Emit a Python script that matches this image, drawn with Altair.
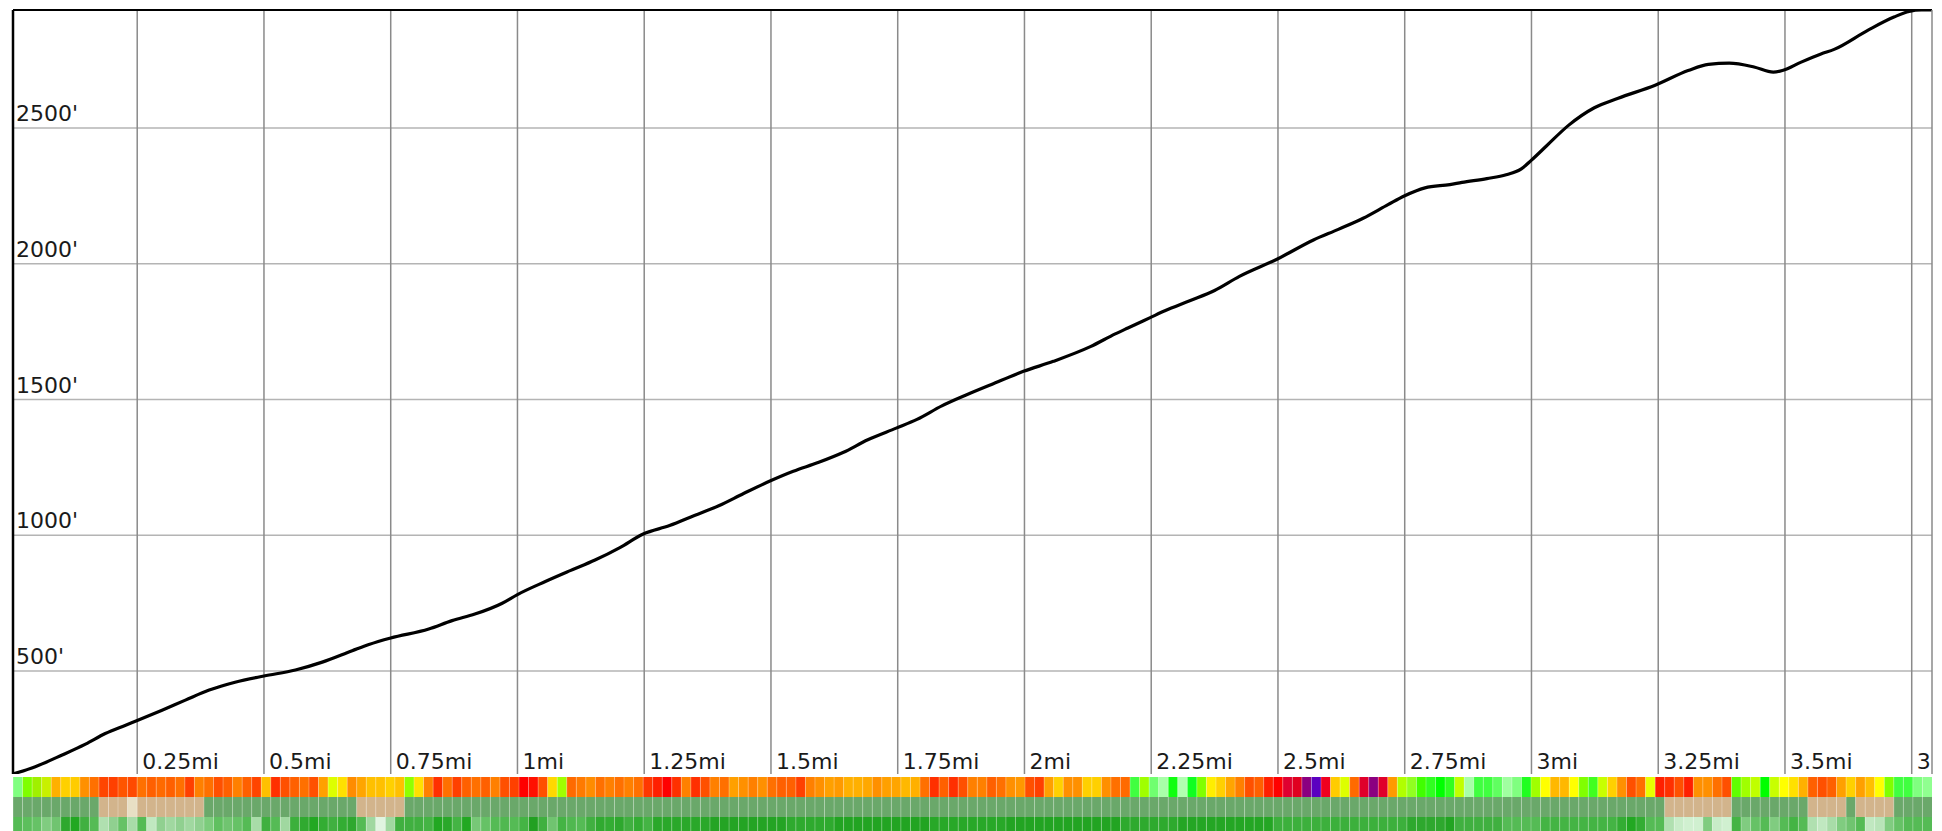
import altair as alt
import pandas as pd

X_MIN, X_MAX = 0.005, 3.79
Y_MIN, Y_MAX = 121, 2935

dist_mi = [0.005, 0.049, 0.102, 0.148, 0.187, 0.226, 0.25, 0.299, 0.345, 0.392, 0.443, 0.5,
           0.562, 0.615, 0.674, 0.707, 0.75, 0.825, 0.871, 0.916, 0.97, 1.0, 1.055, 1.104,
           1.153, 1.202, 1.248, 1.3, 1.349, 1.397, 1.446, 1.498, 1.544, 1.593, 1.642, 1.691,
           1.747, 1.788, 1.837, 1.886, 1.935, 1.998, 2.057, 2.13, 2.179, 2.204, 2.248, 2.277,
           2.326, 2.375, 2.424, 2.499, 2.57, 2.619, 2.668, 2.717, 2.749, 2.79, 2.839, 2.863,
           2.912, 2.95, 2.98, 3.0, 3.03, 3.073, 3.124, 3.171, 3.244, 3.309, 3.349, 3.39,
           3.439, 3.477, 3.495, 3.532, 3.571, 3.597, 3.664, 3.715, 3.745, 3.769, 3.79]
elev_ft = [121, 148, 191, 231, 270, 300, 318, 356, 393, 430, 459, 482,
           504, 533, 575, 598, 622, 655, 686, 710, 750, 782, 830, 870,
           909, 955, 1005, 1036, 1073, 1109, 1154, 1200, 1236, 1268, 1305, 1352,
           1395, 1427, 1477, 1518, 1556, 1604, 1641, 1695, 1742, 1764, 1802, 1827,
           1864, 1902, 1954, 2018, 2088, 2127, 2168, 2218, 2250, 2280, 2292, 2300,
           2314, 2328, 2350, 2382, 2435, 2510, 2575, 2610, 2658, 2712, 2735, 2739,
           2725, 2706, 2712, 2743, 2773, 2790, 2861, 2909, 2930, 2935, 2935]

x_ticks = [0.25, 0.5, 0.75, 1.0, 1.25, 1.5, 1.75, 2.0, 2.25, 2.5, 2.75, 3.0, 3.25, 3.5, 3.75]
x_labels = ["0.25mi", "0.5mi", "0.75mi", "1mi", "1.25mi", "1.5mi", "1.75mi", "2mi",
            "2.25mi", "2.5mi", "2.75mi", "3mi", "3.25mi", "3.5mi", "3.75mi"]
y_ticks = [500, 1000, 1500, 2000, 2500]
y_labels = ["500'", "1000'", "1500'", "2000'", "2500'"]

# band 1: slope colour per 100-ft segment
slope_colors = [
    "#80ff80", "#7fff00", "#a0f000", "#c8f000", "#ffb000", "#ffd000", "#ffcc00", "#ff9000",
    "#ff7000", "#ff4500", "#ff4000", "#ff5500", "#ff4a00", "#ff7000", "#ff6000", "#ff6a00",
    "#ff6000", "#ff7000", "#ff4000", "#ff8000", "#ff7000", "#ff5000", "#ff6000", "#ff8000",
    "#ff6000", "#ff4500", "#ffc000", "#ff3000", "#ff5000", "#ff6000", "#ff7000", "#ff5000",
    "#ffa000", "#ddff00",
    "#ffe000", "#ff8c00", "#ffa500", "#ffc000", "#ffc000", "#ffd000", "#ffc000", "#90ff00",
    "#ffe000", "#ff8000", "#ff3000", "#ff7000", "#ff4000", "#ff6000", "#ff7000", "#ff6000",
    "#ff8000", "#ff5000", "#ff4000", "#ff0000", "#ff1000", "#ff5000", "#ffd800", "#a0ff00",
    "#ff6a00", "#ff7a00", "#ff8c00", "#ff7000", "#ff8000", "#ff7000", "#ff8000", "#ff7000",
    "#ff3800",
    "#ff2000", "#ff0000", "#ff3000", "#ff8000", "#ff3000", "#ff5000", "#ff8000", "#ff7000",
    "#ffa000", "#ff9000", "#ff8000", "#ff9000", "#ff7000", "#ff6000", "#ff6000", "#ff4000",
    "#ff8000", "#ff9000", "#ffa000", "#ff9a00", "#ffb000", "#ffb000", "#ffa800", "#ff9000",
    "#ffa000", "#ffa500", "#ffb800", "#ffb000", "#ff7000", "#ff3000", "#ff6000", "#ff3000",
    "#ff5000", "#ff8000",
    "#ff8000", "#ff6000", "#ff7000", "#ff9000", "#ff9800", "#ff5000", "#ff4000", "#ffa000",
    "#ffd000", "#ff9000", "#ff9000", "#ffd000", "#ffd000", "#ff9000", "#ff7000", "#ff6a00",
    "#40ff40", "#a0ff00", "#70ff70", "#a8ffa8", "#10ff10", "#b0ffb0", "#10ff20", "#80ff00",
    "#ffee00", "#ffd000", "#ffa500", "#ff8000", "#ff5000", "#ff6000", "#ff2000", "#ff0000",
    "#e00030",
    "#e00020", "#8b0080", "#5b00c0", "#f00020", "#ffcc00", "#ddff00", "#ff6a00", "#e0002a",
    "#8b0080", "#e0002a", "#ff9a00", "#b0ff00", "#90ff20", "#40ff00", "#30ff20", "#00ff00",
    "#30ff20", "#c0ff00", "#a8ffa8", "#40ff40", "#40ff40", "#60ff60", "#a0ffa0", "#80ff80",
    "#20ff20", "#a0ff00", "#ffff00", "#ffb800", "#ffb800", "#ffff00", "#80ff00", "#40ff20",
    "#c8ff00", "#ffd000",
    "#ff9000", "#ff5000", "#ff7000", "#e8ff00", "#ff2000", "#ff3000", "#ff5000", "#ff2000",
    "#ff9000", "#ff9000", "#ff7000", "#ff5000", "#60ff00", "#a0ff00", "#c0ff00", "#00ff00",
    "#c8ff00", "#ffff00", "#ffe000", "#ffb000", "#ff6000", "#ff5000", "#ff6000", "#ffa000",
    "#ffd000", "#ffa000", "#ffc000", "#ffff00", "#80ff00", "#40ff40", "#40ff40", "#80ff80",
    "#90ff90",
]

# band 2: cover (runs of colour, count of segments)
cover_runs = [("#6aa86a", 9), ("#d2b48c", 3), ("#e8dfc4", 1), ("#d2b48c", 7), ("#6aa86a", 16),
              ("#d2b48c", 5), ("#6aa86a", 132), ("#d2b48c", 7), ("#6aa86a", 8), ("#d2b48c", 4),
              ("#6aa86a", 1), ("#d2b48c", 4), ("#6aa86a", 4)]

# band 3: vegetation greens
veg_head = [
    "#55bb55", "#5cbf5c", "#66c266", "#80cc80", "#70c470", "#2ea82e", "#22a822", "#40b040",
    "#55bb55", "#b0e0b0", "#90d090", "#66c266", "#a8dca8", "#55bb55", "#c0e8c0", "#90d090",
    "#a0d8a0", "#90d090", "#a0d8a0", "#90d090", "#7ccc7c", "#60c060", "#70c470", "#66c266",
    "#55bb55", "#a8dca8", "#40b040", "#55bb55", "#a0d8a0", "#3cb03c", "#30aa30", "#22a822",
    "#33ad33", "#40b040",
    "#33ad33", "#2ea82e", "#55bb55", "#a0d8a0", "#e0f4e0", "#a0d8a0", "#40b040", "#40b040",
    "#40b040", "#44b444", "#22a822", "#2aa82a", "#44b444", "#22a822", "#77c877", "#66c266",
    "#55bb55", "#50b850", "#55bb55", "#44b444", "#22a022", "#40b040", "#70c470", "#44b444",
    "#50b850", "#55bb55", "#40b040", "#30aa30", "#33ad33", "#2ea82e", "#40b040", "#33ad33",
    "#44b444",
]
veg_mid_runs = [("#2aa82a", 6), ("#24a424", 8), ("#2eaa2e", 5), ("#22a422", 10), ("#28a828", 8),
                ("#22a422", 12), ("#2eaa2e", 6), ("#24a624", 10), ("#3cb03c", 14), ("#2ea82e", 4),
                ("#22a422", 1), ("#40b040", 5), ("#55bb55", 4), ("#44b444", 8)]
veg_tail = [
    "#33ad33", "#22a822", "#33ad33", "#55bb55", "#55bb55", "#b0e0b0", "#c8ecc8", "#d0f0d0",
    "#d0f0d0", "#80cc80", "#c8ecc8", "#d0f0d0", "#44b444", "#80cc80", "#66c266", "#55bb55",
    "#80cc80", "#55bb55", "#44b444", "#55bb55", "#b0e0b0", "#c0e8c0", "#a8dca8", "#80cc80",
    "#70c470", "#55bb55", "#c0e8c0", "#b8e4b8", "#80cc80", "#66c266", "#55bb55", "#55bb55",
    "#55bb55",
]


def expand(runs):
    out = []
    for c, n in runs:
        out.extend([c] * n)
    return out


cover_colors = expand(cover_runs)
veg_colors = veg_head + expand(veg_mid_runs) + veg_tail

band_rows = []
for band, colors in enumerate([slope_colors, cover_colors, veg_colors]):
    seg = (X_MAX - X_MIN) / len(colors)
    for i, c in enumerate(colors):
        band_rows.append({"band": band, "start": X_MIN + i * seg,
                          "end": X_MIN + (i + 1) * seg, "color": c})
band_df = pd.DataFrame(band_rows)
sep_df = band_df[band_df["band"] == 0][["start"]]

line_df = pd.DataFrame({"mi": dist_mi, "ft": elev_ft})
xt_df = pd.DataFrame({"x": x_ticks, "label": x_labels, "y0": [Y_MIN] * len(x_ticks)})
yt_df = pd.DataFrame({"y": y_ticks, "label": y_labels, "x0": [X_MIN] * len(y_ticks)})
frame_df = pd.DataFrame({"xmin": [X_MIN], "xmax": [X_MAX], "ymax": [Y_MAX]})

xs = alt.Scale(domain=[X_MIN, X_MAX], nice=False, zero=False)
ys = alt.Scale(domain=[Y_MIN, Y_MAX], nice=False, zero=False)
FONT = "DejaVu Sans"

hgrid = alt.Chart(yt_df).mark_rule(color="#b4b4b4", strokeWidth=1.5).encode(
    y=alt.Y("y:Q", scale=ys, axis=None))
vgrid = alt.Chart(xt_df).mark_rule(color="#8a8a8a", strokeWidth=1.5).encode(
    x=alt.X("x:Q", scale=xs, axis=None))
ylab = alt.Chart(yt_df).mark_text(align="left", baseline="alphabetic", dx=3, dy=-7,
                                  font=FONT, fontSize=22, color="#1a1a1a").encode(
    x=alt.X("x0:Q", scale=xs, axis=None), y=alt.Y("y:Q", scale=ys, axis=None), text="label:N")
xlab = alt.Chart(xt_df).mark_text(align="left", baseline="alphabetic", dx=5, dy=-5,
                                  font=FONT, fontSize=22, color="#1a1a1a", clip=True).encode(
    x=alt.X("x:Q", scale=xs, axis=None), y=alt.Y("y0:Q", scale=ys, axis=None), text="label:N")
line = alt.Chart(line_df).mark_line(color="black", strokeWidth=3.2, interpolate="monotone",
                                    clip=True, strokeCap="round").encode(
    x=alt.X("mi:Q", scale=xs, axis=None), y=alt.Y("ft:Q", scale=ys, axis=None))
top_edge = alt.Chart(frame_df).mark_rule(color="black", strokeWidth=2).encode(
    y=alt.Y("ymax:Q", scale=ys, axis=None))
left_edge = alt.Chart(frame_df).mark_rule(color="black", strokeWidth=2.5).encode(
    x=alt.X("xmin:Q", scale=xs, axis=None))
right_edge = alt.Chart(frame_df).mark_rule(color="#8a8a8a", strokeWidth=1.5).encode(
    x=alt.X("xmax:Q", scale=xs, axis=None))

top = alt.layer(hgrid, vgrid, ylab, xlab, line, top_edge, left_edge, right_edge).properties(
    width=1919, height=764)

rects = alt.Chart(band_df).mark_rect().encode(
    x=alt.X("start:Q", scale=xs, axis=None), x2="end:Q",
    y=alt.Y("band:O", axis=None, scale=alt.Scale(paddingInner=0, paddingOuter=0)),
    color=alt.Color("color:N", scale=None))
seps = alt.Chart(sep_df).mark_rule(color="white", strokeOpacity=0.28, strokeWidth=1).encode(
    x=alt.X("start:Q", scale=xs, axis=None))
bottom = alt.layer(rects, seps).properties(width=1919, height=60)

chart = alt.vconcat(top, bottom, spacing=0).properties(
    padding={"left": 3, "top": 0, "right": 0, "bottom": 0}
).configure_view(stroke=None)

chart.save("out.html", embed_options={"renderer": "svg", "actions": False})
